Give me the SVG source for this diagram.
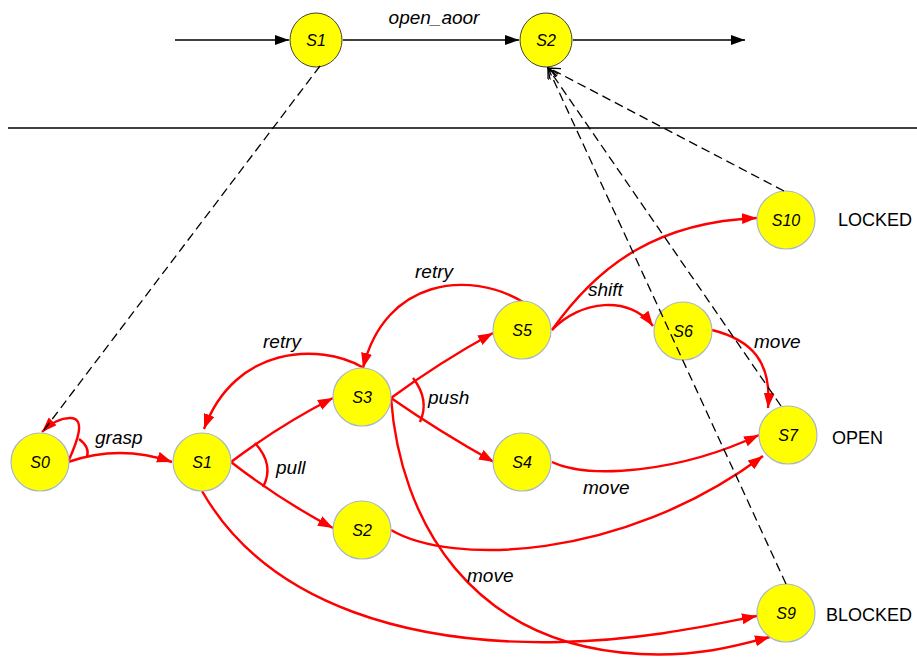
<svg xmlns="http://www.w3.org/2000/svg" width="917" height="659" viewBox="0 0 917 659">
<style>
.node{fill:#ffff00;stroke:#a9b7c9;stroke-width:1.2}
.tnode{fill:#ffff00;stroke:#404040;stroke-width:1}
.nl{font-family:"Liberation Sans","Noto Sans",sans-serif;font-style:italic;font-size:16px;fill:#000;text-anchor:middle}
.el{font-family:"Liberation Sans","Noto Sans",sans-serif;font-style:italic;font-size:19px;fill:#000}
.sl{font-family:"Liberation Sans","Noto Sans",sans-serif;font-size:18px;fill:#000}
.red{fill:none;stroke:#ff0000;stroke-width:2.4}
.blk{fill:none;stroke:#000;stroke-width:1.4}
.dash{fill:none;stroke:#000;stroke-width:1.3;stroke-dasharray:9,5}
</style>
<defs>
<marker id="ra" markerUnits="userSpaceOnUse" markerWidth="16" markerHeight="12" refX="15" refY="5.5" orient="auto"><path d="M0,0 L15,5.5 L0,11 z" fill="#ff0000"/></marker>
<marker id="ba" markerUnits="userSpaceOnUse" markerWidth="15" markerHeight="11" refX="14" refY="5" orient="auto"><path d="M0,0 L14,5 L0,10 z" fill="#000"/></marker>
<marker id="oa" markerUnits="userSpaceOnUse" markerWidth="12" markerHeight="11" refX="11" refY="5" orient="auto"><path d="M0,0 L11,5 L0,10" fill="none" stroke="#000" stroke-width="1.3"/></marker>
</defs>
<rect width="917" height="659" fill="#fff"/>

<g id="top-line">
<path class="blk" d="M175,40 L289,40" marker-end="url(#ba)"/>
<path class="blk" d="M343,40 L519,40" marker-end="url(#ba)"/>
<path class="blk" d="M573,40 L745,40" marker-end="url(#ba)"/>
<text class="el" x="434" y="24" text-anchor="middle">open_aoor</text>
</g>
<line x1="8" y1="128" x2="917" y2="128" stroke="#000" stroke-width="1.3"/>

<g id="edges">
<path class="red" d="M68,462 C78,440 86,418 70,418 C60,418 50,424 42,432" marker-end="url(#ra)"/>
<path class="red" d="M79,439 Q90,447 87,457"/>
<path class="red" d="M68,462 Q120,444 172,462" marker-end="url(#ra)"/>
<path class="red" d="M231,462 Q280,425 333,398" marker-end="url(#ra)"/>
<path class="red" d="M231,462 Q280,500 333,528" marker-end="url(#ra)"/>
<path class="red" d="M255,443 Q275,465 263,487"/>
<path class="red" d="M202,491 C270,610 420,645 560,642 C650,640 720,623 757,616" marker-end="url(#ra)"/>
<path class="red" d="M391,398 C400,520 470,645 640,654 C700,657 740,645 770,637" marker-end="url(#ra)"/>
<path class="red" d="M391,398 Q440,362 493,333" marker-end="url(#ra)"/>
<path class="red" d="M391,398 Q440,432 494,462" marker-end="url(#ra)"/>
<path class="red" d="M413,378 Q430,400 420,422"/>
<path class="red" d="M523,302 C470,270 385,278 363,368" marker-end="url(#ra)"/>
<path class="red" d="M362,367 C320,343 235,345 204,429" marker-end="url(#ra)"/>
<path class="red" d="M552,330 C580,300 630,295 653,326" marker-end="url(#ra)"/>
<path class="red" d="M552,330 C600,262 660,222 757,218" marker-end="url(#ra)"/>
<path class="red" d="M712,330 C752,340 772,362 768,408" marker-end="url(#ra)"/>
<path class="red" d="M552,462 C590,480 680,472 759,435" marker-end="url(#ra)"/>
<path class="red" d="M391,530 C450,565 620,562 763,456" marker-end="url(#ra)"/>
</g>

<g id="edge-labels">
<text class="el" x="95" y="444">grasp</text>
<text class="el" x="276" y="474">pull</text>
<text class="el" x="263" y="348">retry</text>
<text class="el" x="415" y="278">retry</text>
<text class="el" x="428" y="404">push</text>
<text class="el" x="588" y="296">shift</text>
<text class="el" x="754" y="348">move</text>
<text class="el" x="583" y="494">move</text>
<text class="el" x="467" y="582">move</text>
</g>

<g id="top-S1"><ellipse class="tnode" cx="316" cy="40" rx="26" ry="27"/><text class="nl" x="316" y="46">S1</text></g>
<g id="top-S2"><ellipse class="tnode" cx="546" cy="40" rx="26" ry="27"/><text class="nl" x="546" y="46">S2</text></g>

<g id="S0"><circle class="node" cx="40" cy="462" r="29"/><text class="nl" x="40" y="468">S0</text></g>
<g id="S1"><circle class="node" cx="202" cy="462" r="29"/><text class="nl" x="202" y="468">S1</text></g>
<g id="S3"><circle class="node" cx="362" cy="397" r="29"/><text class="nl" x="362" y="403">S3</text></g>
<g id="S2"><circle class="node" cx="362" cy="530" r="29"/><text class="nl" x="362" y="536">S2</text></g>
<g id="S4"><circle class="node" cx="522" cy="462" r="29"/><text class="nl" x="522" y="468">S4</text></g>
<g id="S5"><circle class="node" cx="522" cy="330" r="29"/><text class="nl" x="522" y="336">S5</text></g>
<g id="S6"><circle class="node" cx="683" cy="331" r="29"/><text class="nl" x="683" y="337">S6</text></g>
<g id="S10"><circle class="node" cx="786" cy="220" r="29"/><text class="nl" x="786" y="226">S10</text></g>
<g id="S7"><circle class="node" cx="788" cy="435" r="29"/><text class="nl" x="788" y="441">S7</text></g>
<g id="S9"><circle class="node" cx="786" cy="613" r="29"/><text class="nl" x="786" y="619">S9</text></g>

<g id="state-labels">
<text class="sl" x="838" y="226">LOCKED</text>
<text class="sl" x="832" y="444">OPEN</text>
<text class="sl" x="826" y="621">BLOCKED</text>
</g>

<g id="mapping-links">
<path class="dash" d="M320,66 L44,430"/>
<path class="dash" d="M784,191 L549,68" marker-end="url(#oa)"/>
<path class="dash" d="M781,406 L548,68" marker-end="url(#oa)"/>
<path class="dash" d="M786,584 L548,68" marker-end="url(#oa)"/>
</g>
</svg>
